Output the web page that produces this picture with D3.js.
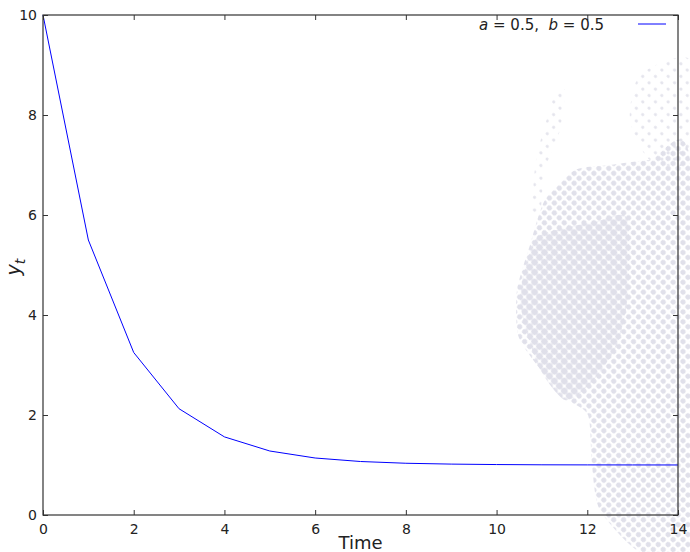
<!DOCTYPE html>
<html>
<head>
<meta charset="utf-8">
<script src="https://cdn.jsdelivr.net/npm/d3@7/dist/d3.min.js"></script>
<style>
  body { margin: 0; background: #fff; }
  text { font-family: "DejaVu Sans", sans-serif; fill: #222; }
</style>
</head>
<body>
<svg id="chart" width="690" height="552"></svg>
<script>
// values
const timeSteps = [0, 1, 2, 3, 4, 5, 6, 7, 8, 9, 10, 11, 12, 13, 14];
const yValues = [10, 5.5, 3.25, 2.125, 1.5625, 1.28, 1.14, 1.07, 1.035, 1.018, 1.009, 1.004, 1.002, 1.001, 1.0005];
const xTicks = [0, 2, 4, 6, 8, 10, 12, 14];
const yTicks = [0, 2, 4, 6, 8, 10];
const legendLabel = "a = 0.5, b = 0.5";

const width = 690, height = 552;
const margin = {top: 15, right: 12, bottom: 37, left: 43};

const svg = d3.select("#chart");

// faint halftone picture behind the chart (decoration only)
const defs = svg.append("defs");
function dotPattern(id, size, r, col) {
    const p = defs.append("pattern")
        .attr("id", id)
        .attr("width", size).attr("height", size)
        .attr("patternUnits", "userSpaceOnUse")
        .attr("patternTransform", "rotate(45)");
    p.append("circle").attr("cx", size / 2).attr("cy", size / 2).attr("r", r).attr("fill", col);
}
dotPattern("dots", 7, 2.6, "#e0e0ea");
dotPattern("dots2", 7, 3.3, "#e0e0ea");
dotPattern("dots3", 9, 1.6, "#e4e4ec");

const blob = d3.line().curve(d3.curveCardinalClosed.tension(0.3));
const outerShape = [[575, 170], [545, 200], [530, 245], [517, 290], [518, 335], [537, 365],
    [565, 398], [588, 415], [592, 465], [600, 510], [640, 552], [690, 552], [690, 160], [650, 160], [610, 165]];
const innerShape = [[595, 222], [627, 218], [628, 295], [617, 345], [592, 382], [565, 400],
    [538, 365], [520, 300], [535, 240], [565, 228]];
const sparseShape = [[555, 95], [565, 90], [560, 130], [545, 170], [540, 215], [532, 215], [536, 160], [548, 115]];
const sparseShape2 = [[640, 75], [690, 60], [690, 160], [650, 160], [630, 120]];
svg.append("path").attr("d", blob(sparseShape)).attr("fill", "url(#dots3)");
svg.append("path").attr("d", blob(sparseShape2)).attr("fill", "url(#dots3)");
svg.append("path").attr("d", blob(outerShape)).attr("fill", "url(#dots)");
svg.append("path").attr("d", blob(innerShape)).attr("fill", "url(#dots2)");

const x = d3.scaleLinear().domain([0, 14]).range([margin.left, width - margin.right]);
const y = d3.scaleLinear().domain([0, 10]).range([height - margin.bottom, margin.top]);

// data line
svg.append("path")
    .datum(timeSteps.map((t, i) => [t, yValues[i]]))
    .attr("fill", "none")
    .attr("stroke", "#0000ff")
    .attr("stroke-width", 1)
    .attr("d", d3.line().x(d => x(d[0])).y(d => y(d[1])));

// axes with inward ticks on all four sides
const axisColor = "#333";
function styleAxis(g) {
    g.select(".domain").remove();
    g.selectAll(".tick line").attr("stroke", axisColor);
    g.selectAll(".tick text").style("font-size", "14px").attr("fill", "#222");
}
svg.append("g")
    .attr("transform", "translate(0," + y(0) + ")")
    .call(d3.axisBottom(x).tickValues(xTicks).tickFormat(d3.format("d")).tickSizeInner(-5).tickPadding(9))
    .call(styleAxis);
svg.append("g")
    .attr("transform", "translate(" + x(0) + ",0)")
    .call(d3.axisLeft(y).tickValues(yTicks).tickFormat(d3.format("d")).tickSizeInner(-5).tickPadding(6))
    .call(styleAxis);
svg.append("g")
    .attr("transform", "translate(0," + y(10) + ")")
    .call(d3.axisTop(x).tickValues(xTicks).tickFormat("").tickSizeInner(-5))
    .call(styleAxis);
svg.append("g")
    .attr("transform", "translate(" + x(14) + ",0)")
    .call(d3.axisRight(y).tickValues(yTicks).tickFormat("").tickSizeInner(-5))
    .call(styleAxis);

svg.append("rect")
    .attr("x", x(0)).attr("y", y(10))
    .attr("width", x(14) - x(0)).attr("height", y(0) - y(10))
    .attr("fill", "none").attr("stroke", axisColor).attr("stroke-width", 1.2);

// axis labels
svg.append("text")
    .attr("x", (x(0) + x(14)) / 2).attr("y", height - 3)
    .attr("text-anchor", "middle")
    .style("font-size", "18px")
    .text("Time");

const yl = svg.append("text")
    .attr("transform", "translate(20," + (y(5) + 2) + ") rotate(-90)")
    .attr("text-anchor", "middle")
    .style("font-size", "19px");
yl.append("tspan").attr("font-style", "italic").text("y");
yl.append("tspan").attr("font-style", "italic").attr("dy", 5).style("font-size", "14px").text("t");

// legend (no frame)
const parts = legendLabel.split(", ");
const lg = svg.append("text")
    .attr("x", 604).attr("y", 30)
    .attr("text-anchor", "end")
    .style("font-size", "15px")
    .attr("xml:space", "preserve");
parts.forEach((p, i) => {
    const kv = p.split(" = ");
    lg.append("tspan").attr("font-style", "italic").text(kv[0]);
    lg.append("tspan").text(" = " + kv[1] + (i < parts.length - 1 ? ",  " : ""));
});
svg.append("line")
    .attr("x1", 638).attr("x2", 666)
    .attr("y1", 24).attr("y2", 24)
    .attr("stroke", "#0000ff").attr("stroke-width", 1);
</script>
</body>
</html>
